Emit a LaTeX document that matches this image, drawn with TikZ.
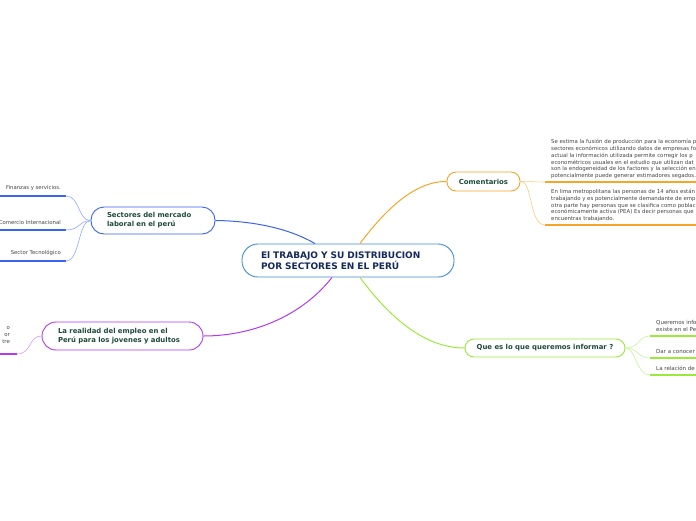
\documentclass[tikz,border=0pt]{standalone}
\usepackage{fontspec}
\setmainfont{DejaVu Sans}
\definecolor{hubc}{HTML}{3F8ED6}
\definecolor{navy}{HTML}{152A5C}
\definecolor{dgreen}{HTML}{1E4A3A}
\definecolor{leaftext}{HTML}{444444}
\definecolor{cblue}{HTML}{3A62F5}
\definecolor{lblue}{HTML}{8FA9FF}
\definecolor{corange}{HTML}{F5A52A}
\definecolor{lorange}{HTML}{F9CB80}
\definecolor{cpurple}{HTML}{B03AF2}
\definecolor{lpurple}{HTML}{D49AF7}
\definecolor{cgreen}{HTML}{9BEA3A}
\definecolor{lgreen}{HTML}{C6F59A}
\begin{document}
\begin{tikzpicture}[x=1pt,y=-1pt,
  hub/.style={draw=hubc, line width=0.9pt, fill=white, rounded corners=16pt,
    minimum width=212pt, minimum height=33pt, inner ysep=0pt, inner xsep=19pt,
    text width=174pt, align=left,
    text=navy, font=\fontsize{9}{11}\selectfont\bfseries},
  topic/.style={line width=0.9pt, fill=white, inner sep=0pt, align=left,
    text=dgreen, font=\fontsize{6.9}{9}\selectfont\bfseries},
  leaf/.style={inner sep=0pt, text=leaftext, align=right,
    font=\fontsize{5.35}{7}\selectfont},
  leafl/.style={inner sep=0pt, text=leaftext, align=left,
    font=\fontsize{5.5}{7}\selectfont},
  para/.style={inner sep=0pt, text=leaftext, align=left,
    font=\fontsize{5.4}{6.8}\selectfont},
  ul/.style={line width=1.6pt},
  link/.style={line width=0.6pt}
]
\useasboundingbox (0,0) rectangle (696,520);
\clip (0,0) rectangle (696,520);

% central node
\node[hub] (c) at (348,260.5) {El TRABAJO Y SU DISTRIBUCION\\POR SECTORES EN EL PERÚ};

% main topics
\node[topic, draw=cblue, rounded corners=13pt, minimum width=124pt, minimum height=27pt, inner xsep=16pt, text width=92pt] (s) at (153,220.5) {Sectores del mercado\\laboral en el perú};
\node[topic, draw=cpurple, rounded corners=14pt, minimum width=161pt, minimum height=28pt, inner xsep=16pt, text width=129pt] (r) at (122.5,336) {La realidad del empleo en el\\Perú para los jovenes y adultos};
\node[topic, draw=corange, rounded corners=9pt, minimum width=73pt, minimum height=19pt] (k) at (483.5,181.5) {Comentarios};
\node[topic, draw=cgreen, rounded corners=9pt, minimum width=160pt, minimum height=18pt] (q) at (545,348) {Que es lo que queremos informar ?};

% main connectors
\draw[cblue, line width=1pt] ([xshift=-33pt]c.north) .. controls (290,229) and (255,221) .. (s.east);
\draw[cpurple, line width=1pt] ([xshift=-16pt]c.south) .. controls (300,318) and (250,336) .. (r.east);
\draw[corange, line width=1pt] ([xshift=12pt]c.north) .. controls (385,210) and (415,181) .. (k.west);
\draw[cgreen, line width=1pt] ([xshift=12pt]c.south) .. controls (390,318) and (425,348) .. (q.west);

% leaves of Sectores
\node[leaf, anchor=south east] (f1) at (61,191) {Finanzas y servicios.};
\node[leaf, anchor=south east] (f2) at (61,225) {Comercio Internacional};
\node[leaf, anchor=south east] (f3) at (61,256) {Sector Tecnológico};
\coordinate (f1e) at (66,196);
\coordinate (f2e) at (66,230);
\coordinate (f3e) at (66,261);
\draw[ul, cblue] (0,196) -- (f1e);
\draw[ul, cblue] (0,230) -- (f2e);
\draw[ul, cblue] (0,261) -- (f3e);
\draw[link, lblue] (s.west) .. controls (78,221) and (80,196) .. (f1e);
\draw[link, lblue] (s.west) .. controls (78,221) and (80,230) .. (f2e);
\draw[link, lblue] (s.west) .. controls (78,221) and (80,261) .. (f3e);

% leaf of Realidad
\node[leaf, anchor=south east] (p1) at (10,344) {o\\or\\tre};
\coordinate (p1e) at (17,354);
\draw[ul, cpurple] (0,354) -- (p1e);
\draw[link, lpurple] (r.west) .. controls (28,336) and (32,354) .. (p1e);

% leaves of Comentarios
\node[para, anchor=south west] (m1) at (551,179) {Se estima la fusión de producción para la economía p\\sectores económicos utilizando datos de empresas fo\\actual la información utilizada permite corregir los p\\econométricos usuales en el estudio que utilizan dat\\son la endogeneidad de los factores y la selección en\\potencialmente puede generar estimadores segados.};
\node[para, anchor=south west] (m2) at (551,222) {En lima metropolitana las personas de 14 años están\\trabajando y es potencialmente demandante de emp\\otra parte hay personas que se clasifica como poblac\\económicamente activa (PEA) Es decir personas que\\encuentras trabajando.};
\coordinate (m1s) at (545,182);
\coordinate (m2s) at (545,225);
\draw[ul, corange] (m1s) -- (696,182);
\draw[ul, corange] (m2s) -- (696,225);
\draw[link, lorange] (k.east) .. controls (533,181) and (533,182) .. (m1s);
\draw[link, lorange] (k.east) .. controls (533,181) and (529,225) .. (m2s);

% leaves of Que
\node[leafl, anchor=south west] (g1) at (656,332) {Queremos info\\existe en el Pe};
\node[leafl, anchor=south west] (g2) at (656,354) {Dar a conocer};
\node[leafl, anchor=south west] (g3) at (656,371) {La relación de};
\coordinate (g1s) at (650,336);
\coordinate (g2s) at (650,358);
\coordinate (g3s) at (650,375);
\draw[ul, cgreen] (g1s) -- (696,336);
\draw[ul, cgreen] (g2s) -- (696,358);
\draw[ul, cgreen] (g3s) -- (696,375);
\draw[link, lgreen] (q.east) .. controls (640,348) and (638,336) .. (g1s);
\draw[link, lgreen] (q.east) .. controls (638,348) and (638,358) .. (g2s);
\draw[link, lgreen] (q.east) .. controls (636,348) and (636,375) .. (g3s);
\end{tikzpicture}
\end{document}
